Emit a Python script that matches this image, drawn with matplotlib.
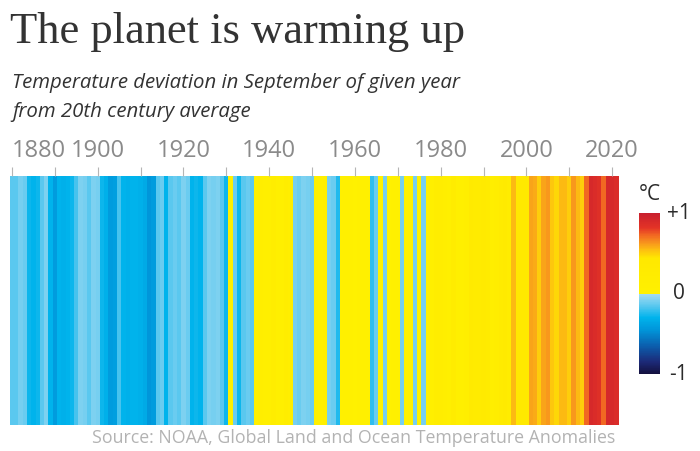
import numpy as np
import matplotlib
matplotlib.use("Agg")
import matplotlib.pyplot as plt
from matplotlib.colors import LinearSegmentedColormap, Normalize
from matplotlib.cm import ScalarMappable

plt.rcParams['font.family'] = ['Open Sans', 'DejaVu Sans']

# September anomalies vs 20th century average (deg C)
years = np.arange(1880, 2022)
anomaly = [
    -0.15, -0.15, -0.10, -0.12, -0.28, -0.30, -0.28, -0.15, -0.08, -0.30,   # 1880s
    -0.42, -0.30, -0.32, -0.30, -0.28, -0.18, -0.08, -0.10, -0.15, -0.08,   # 1890s
    -0.10, -0.28, -0.32, -0.42, -0.40, -0.18, -0.30, -0.32, -0.30, -0.30,   # 1900s
    -0.32, -0.35, -0.45, -0.42, -0.15, -0.12, -0.30, -0.15, -0.12, -0.15,   # 1910s
    -0.08, -0.12, -0.30, -0.28, -0.30, -0.15, -0.08, -0.10, -0.08, -0.15,   # 1920s
    -0.28, 0.05, -0.12, -0.28, -0.15, -0.12, -0.15, 0.10, 0.15, 0.10,       # 1930s
    0.12, 0.20, 0.10, 0.12, 0.20, 0.15, -0.10, -0.12, -0.08, -0.10,         # 1940s
    -0.12, 0.08, 0.05, 0.10, -0.10, -0.12, -0.25, 0.05, 0.05, 0.03,         # 1950s
    0.02, 0.05, 0.03, 0.05, -0.22, -0.12, 0.02, -0.10, 0.02, 0.05,          # 1960s
    0.03, -0.10, 0.02, 0.05, -0.10, 0.02, -0.10, 0.10, 0.10, 0.20,          # 1970s
    0.20, 0.15, 0.10, 0.25, 0.10, 0.10, 0.15, 0.35, 0.30, 0.30,             # 1980s
    0.35, 0.30, 0.15, 0.20, 0.30, 0.35, 0.25, 0.55, 0.42, 0.38,             # 1990s
    0.40, 0.60, 0.58, 0.50, 0.60, 0.62, 0.52, 0.48, 0.55, 0.55,             # 2000s
    0.50, 0.62, 0.55, 0.50, 0.72, 0.90, 0.88, 0.85, 0.72, 0.92,             # 2010s
    0.90, 0.88,                                                              # 2020s
]
tick_years = np.arange(1880, 2021, 10)
tick_labels = [str(y) if y % 20 == 0 else '' for y in tick_years]

cmap = LinearSegmentedColormap.from_list('stripes', [
    (0.000, '#14103f'),
    (0.075, '#1c2a78'),
    (0.175, '#0b5fae'),
    (0.275, '#0096da'),
    (0.350, '#00b3ec'),
    (0.425, '#5cc8ef'),
    (0.4999, '#a6dcf2'),
    (0.5001, '#fff100'),
    (0.720, '#ffe800'),
    (0.770, '#fdc010'),
    (0.810, '#f89a1c'),
    (0.860, '#f26b22'),
    (0.910, '#e33326'),
    (1.000, '#c81f2e'),
])
norm = Normalize(-1, 1)

fig = plt.figure(figsize=(7, 4.51), dpi=100)

ax = fig.add_axes([0.0141, 0.058, 0.8695, 0.552])
edges = np.append(years - 0.5, years[-1] + 0.5)
ax.pcolormesh(edges, [0, 1], np.array(anomaly)[np.newaxis, :], cmap=cmap, norm=norm)
ax.set_xlim(edges[0], edges[-1])
ax.set_ylim(0, 1)
ax.set_yticks([])
for s in ax.spines.values():
    s.set_visible(False)
ax.xaxis.tick_top()
ax.set_xticks(tick_years)
ax.set_xticklabels(tick_labels)
ax.tick_params(axis='x', length=6.5, width=0.8, color='#b5b5b5', pad=3,
               labelsize=17, labelcolor='#8a8a8a')
ax.get_xticklabels()[0].set_ha('left')

# colour scale
cax = fig.add_axes([0.9129, 0.1707, 0.03, 0.357])
cb = fig.colorbar(ScalarMappable(norm=norm, cmap=cmap), cax=cax)
cb.outline.set_visible(False)
cb.set_ticks([])
for val, lab in [(1, '+1'), (0, '0'), (-1, '-1')]:
    cax.text(1.9, val, lab, ha='center', va='center', fontsize=15, color='#2b2b2b')
fig.text(0.9286, 0.5698, '°C', ha='center', va='center', fontsize=15, color='#2b2b2b')

fig.text(0.0143, 0.904, 'The planet is warming up', family='Liberation Serif',
         fontsize=32, color='#333333', va='baseline')
fig.text(0.0171, 0.8049, 'Temperature deviation in September of given year',
         fontsize=14.7, style='italic', color='#333333', va='baseline')
fig.text(0.0171, 0.7406, 'from 20th century average',
         fontsize=14.7, style='italic', color='#333333', va='baseline')
fig.text(0.8786, 0.0288, 'Source: NOAA, Global Land and Ocean Temperature Anomalies',
         fontsize=12.8, color='#b3b3b3', ha='right', va='center')

fig.savefig('out.png', dpi=100)
